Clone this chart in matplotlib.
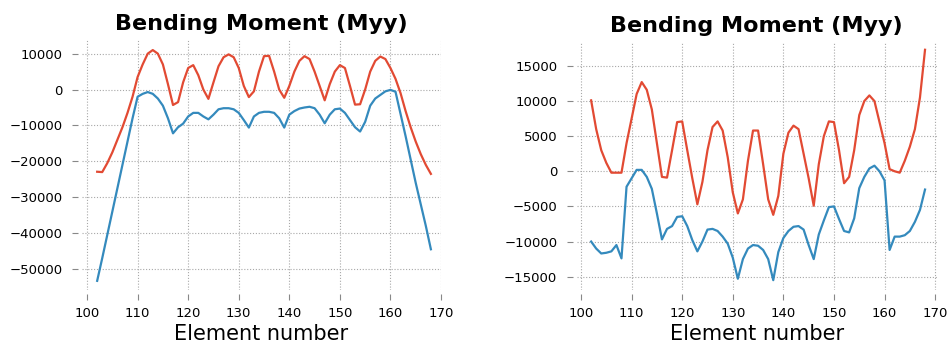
import numpy as np
import matplotlib
matplotlib.use('Agg')
import matplotlib.pyplot as plt

# element numbers (same for both plots)
elements = list(range(102, 169))

# left plot: bending moment Myy, max / min envelopes
left_max = [-22900, -23000, -20500, -17500, -14000, -10500, -6500, -2000, 3500, 7000,
            10000, 11000, 10000, 7000, 1500, -4300, -3500, 2000, 6000, 6800,
            4000, 0, -2600, 2000, 6500, 9000, 9800, 9000, 6000, 1000,
            -2100, -500, 5000, 9300, 9400, 5000, 0, -2300, 1000, 5000,
            8000, 9300, 8500, 5000, 1000, -3000, 1500, 5000, 6800, 6000,
            1000, -4200, -4100, 0, 5000, 8000, 9200, 8500, 6000, 3000,
            -1000, -6000, -10500, -14500, -18000, -21000, -23500]
left_min = [-53300, -47000, -40500, -34000, -27500, -21000, -14500, -8000, -2000, -1200,
            -700, -1200, -2500, -4500, -8000, -12200, -10500, -9500, -7500, -6500,
            -6500, -7500, -8300, -7000, -5500, -5200, -5200, -5500, -6500, -8500,
            -10600, -7500, -6500, -6200, -6200, -6500, -8000, -10600, -7000, -6000,
            -5300, -5000, -4800, -5200, -7000, -9400, -7000, -5500, -5300, -6500,
            -8500, -10500, -11700, -9000, -4500, -2500, -1500, -500, -100, -600,
            -6800, -13000, -19500, -26000, -32000, -38000, -44500]

# right plot
right_max = [10100, 6000, 3000, 1200, -200, -200, -200, 4000, 7500, 11000,
             12700, 11600, 8800, 4000, -800, -900, 3000, 7000, 7100, 3000,
             -1000, -4700, -1500, 3000, 6300, 7100, 5800, 2000, -3000, -6000,
             -4000, 1500, 5800, 5800, 1000, -4000, -6200, -3500, 2500, 5500,
             6500, 6000, 2500, -1000, -4900, 1000, 5000, 7100, 7000, 3000,
             -1700, -800, 3000, 8000, 10000, 10800, 10000, 7000, 4000, 300,
             0, -200, 1500, 3500, 6000, 10500, 17300]
right_min = [-10000, -11000, -11700, -11600, -11400, -10500, -12400, -2200, -1000, 200,
             200, -800, -2500, -6000, -9700, -8200, -7800, -6500, -6400, -7800,
             -9800, -11400, -10000, -8300, -8200, -8500, -9300, -10300, -12300, -15300,
             -12500, -11000, -10500, -10600, -11200, -12500, -15500, -11500, -9500, -8500,
             -7900, -7800, -8300, -10500, -12500, -9000, -7000, -5100, -5000, -6800,
             -8500, -8700, -6700, -2400, -800, 400, 800, 0, -1300, -11200,
             -9300, -9300, -9100, -8500, -7200, -5500, -2600]

red = '#E24A33'
blue = '#348ABD'

fig = plt.figure(figsize=(9.49, 3.56), dpi=100)
ax1 = fig.add_axes([0.0864, 0.1854, 0.3783, 0.7022])
ax2 = fig.add_axes([0.6077, 0.1854, 0.3793, 0.6975])

def style(ax, mx, mn, xlim, ylim, yticks):
	ax.plot(elements, mx, color=red, lw=1.6)
	ax.plot(elements, mn, color=blue, lw=1.6)
	ax.set_xlim(*xlim)
	ax.set_ylim(*ylim)
	ax.set_xticks(range(100, 171, 10))
	ax.set_yticks(yticks)
	ax.grid(True, linestyle=(0, (1, 1.6)), color='#a8a8a8', lw=0.8)
	# spines hidden but pushed out, so the tick marks sit off the plot area
	for s in ax.spines.values():
		s.set_position(('outward', 3))
		s.set_visible(False)
	ax.tick_params(direction='out', length=4, width=0.8, color='#888888', labelsize=9.5)
	ax.tick_params(axis='x', pad=5)
	ax.tick_params(axis='y', pad=7)
	ax.set_title('Bending Moment (Myy)', fontsize=16, fontweight='bold', pad=7)
	ax.set_xlabel('Element number', fontsize=15, labelpad=3)

style(ax1, left_max, left_min, (99.0, 170.0), (-55850, 13800), range(-50000, 10001, 10000))
style(ax2, right_max, right_min, (99.15, 170.3), (-16900, 18450), range(-15000, 15001, 5000))

fig.savefig('out.png', dpi=100)
